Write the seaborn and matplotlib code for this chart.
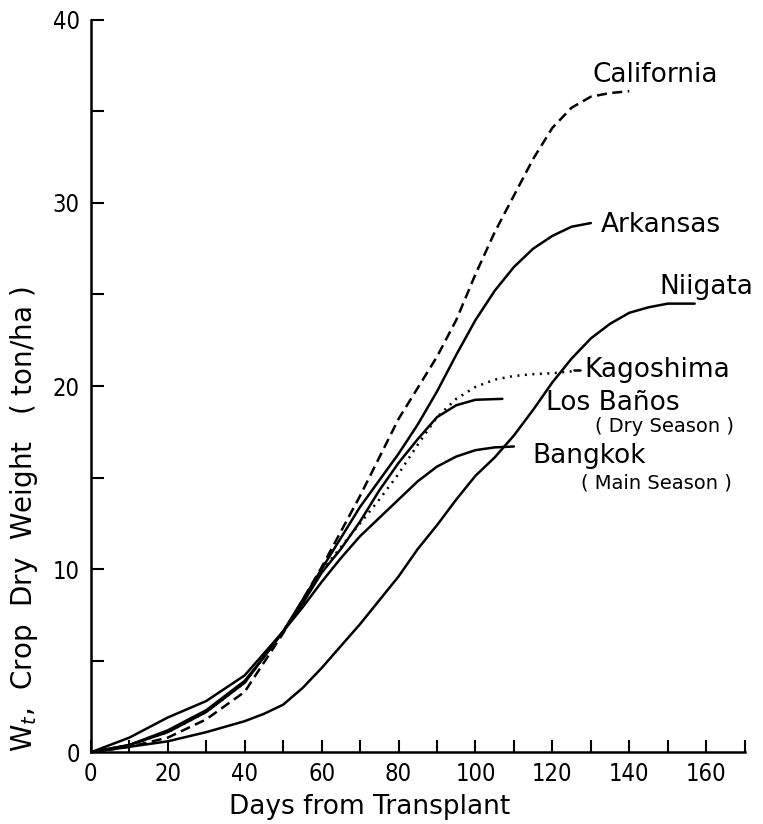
import numpy as np
import pandas as pd
import matplotlib.pyplot as plt
import seaborn as sns

# --- data (days, crop dry weight ton/ha) ---
CA_DAYS = [0, 10, 20, 30, 40, 50, 60, 70, 80, 90, 95, 100, 105, 110, 115, 120, 125, 130, 135, 140]
CA_WT = [0, 0.3, 0.8, 1.8, 3.3, 6.5, 10.1, 14.0, 18.2, 21.6, 23.6, 26.1, 28.4, 30.4, 32.4, 34.1, 35.2, 35.8, 36.0, 36.1]

AR_DAYS = [0, 10, 20, 30, 40, 50, 60, 70, 80, 85, 90, 95, 100, 105, 110, 115, 120, 125, 130]
AR_WT = [0, 0.4, 1.1, 2.2, 3.8, 6.6, 10.0, 13.4, 16.3, 17.9, 19.7, 21.7, 23.6, 25.2, 26.5, 27.5, 28.2, 28.7, 28.9]

NI_DAYS = [0, 10, 20, 30, 40, 45, 50, 55, 60, 65, 70, 75, 80, 85, 90, 95, 100, 105, 110,
           115, 120, 125, 130, 135, 140, 145, 150, 157]
NI_WT = [0, 0.3, 0.6, 1.1, 1.7, 2.1, 2.6, 3.5, 4.6, 5.8, 7.0, 8.3, 9.6, 11.1, 12.4, 13.8, 15.1,
         16.1, 17.3, 18.7, 20.2, 21.5, 22.6, 23.4, 24.0, 24.3, 24.5, 24.5]

KA_DAYS = [0, 10, 20, 30, 40, 50, 60, 65, 70, 75, 80, 85, 90, 95, 100, 105, 110, 115, 120, 125]
KA_WT = [0, 0.4, 1.1, 2.2, 3.8, 6.6, 9.9, 11.2, 12.5, 13.8, 15.2, 16.8, 18.3, 19.3, 19.95, 20.35,
         20.55, 20.65, 20.7, 20.8]

LB_DAYS = [0, 10, 20, 30, 40, 45, 50, 55, 60, 65, 70, 75, 80, 85, 90, 95, 100, 107]
LB_WT = [0, 0.4, 1.2, 2.3, 3.9, 5.2, 6.6, 8.1, 9.8, 11.1, 12.6, 14.3, 15.8, 17.1, 18.3, 18.95, 19.25, 19.3]

BK_DAYS = [0, 10, 20, 30, 40, 45, 50, 55, 60, 65, 70, 75, 80, 85, 90, 95, 100, 105, 110]
BK_WT = [0, 0.8, 1.9, 2.8, 4.2, 5.4, 6.6, 7.9, 9.3, 10.6, 11.8, 12.8, 13.8, 14.8, 15.6, 16.15, 16.5, 16.65, 16.7]

SITES = ["California", "Arkansas", "Niigata", "Kagoshima", "Los Baños", "Bangkok"]
SERIES = {
    "California": (CA_DAYS, CA_WT),
    "Arkansas": (AR_DAYS, AR_WT),
    "Niigata": (NI_DAYS, NI_WT),
    "Kagoshima": (KA_DAYS, KA_WT),
    "Los Baños": (LB_DAYS, LB_WT),
    "Bangkok": (BK_DAYS, BK_WT),
}

LINESTYLES = {
    "California": (0, (4, 2.2)),
    "Kagoshima": (0, (0.8, 2.2)),
}

# label text, x, y, size
LABELS = [
    ("California", 130.4, 37.0, 19),
    ("Arkansas", 132.7, 28.8, 19),
    ("Niigata", 147.8, 25.4, 19),
    ("Kagoshima", 128.3, 20.9, 19),
    ("Los Baños", 118.4, 19.1, 19),
    ("( Dry Season )", 131.0, 17.8, 14),
    ("Bangkok", 114.8, 16.2, 19),
    ("( Main Season )", 127.5, 14.7, 14),
]

sns.set_style("ticks")
plt.rcParams['font.family'] = ['DejaVu Sans']

rows = []
for site in SITES:
    d, w = SERIES[site]
    for x, y in zip(d, w):
        rows.append({"Site": site, "Days": x, "Wt": y})
df = pd.DataFrame(rows)

fig = plt.figure(figsize=(7.63, 8.24), dpi=100)
ax = fig.add_axes([0.119, 0.087, 0.857, 0.889])

for site in SITES:
    sub = df[df["Site"] == site]
    sns.lineplot(data=sub, x="Days", y="Wt", ax=ax, color="black", lw=1.8,
                 linestyle=LINESTYLES.get(site, "-"), sort=False)

# small lead-in dash before the Kagoshima label
ax.plot([125.5, 127.3], [20.85, 20.85], color="black", lw=1.8)

for txt, x, y, size in LABELS:
    ax.text(x, y, txt, fontsize=size, va="center", ha="left", color="black")

ax.set_xlim(0, 170)
ax.set_ylim(0, 40)
ax.set_xticks(np.arange(0, 171, 10))
ax.set_xticklabels([str(v) if v % 20 == 0 and v <= 160 else "" for v in range(0, 171, 10)])
ax.set_yticks(np.arange(0, 41, 5))
ax.set_yticklabels([str(v) if v % 10 == 0 else "" for v in range(0, 41, 5)])
ax.tick_params(direction="in", length=9, width=1.5, labelsize=17, colors="black")
ax.tick_params(axis="x", pad=7)
ax.tick_params(axis="y", pad=8)
for lab in ax.get_xticklabels() + ax.get_yticklabels():
    lab.set_stretch("condensed")
sns.despine(ax=ax)
for sp in ["left", "bottom"]:
    ax.spines[sp].set_linewidth(1.8)
    ax.spines[sp].set_color("black")

ax.set_xlabel("Days from Transplant", fontsize=19, color="black")
ax.xaxis.set_label_coords(0.427, -0.057)
ax.set_ylabel("")
fig.text(0.032, 0.37, "W$_t$,  Crop  Dry  Weight   ( ton/ha )", rotation=90,
         fontsize=20, va="center", ha="center", color="black")

plt.savefig("out.png", dpi=100)
